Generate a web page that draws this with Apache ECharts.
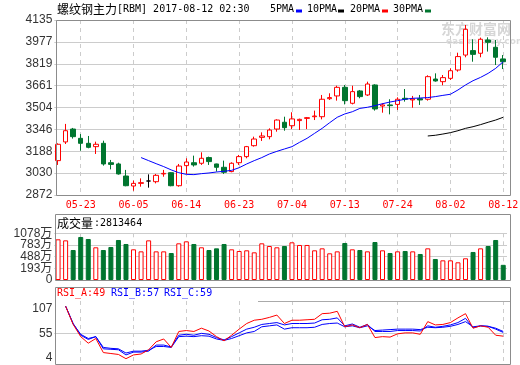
<!DOCTYPE html>
<html><head><meta charset="utf-8">
<script src="https://cdn.jsdelivr.net/npm/echarts@6/dist/echarts.min.js"></script>
<style>html,body{margin:0;padding:0;background:#fff}#c{width:520px;height:365px}</style>
</head><body><div id="c"></div>
<script>
const dates = ['05-18','05-19','05-22','05-23','05-24','05-25','05-26','05-31','06-01','06-02',
'06-05','06-06','06-07','06-08','06-09','06-12','06-13','06-14','06-15','06-16',
'06-19','06-20','06-21','06-22','06-23','06-26','06-27','06-28','06-29','06-30',
'07-03','07-04','07-05','07-06','07-07','07-10','07-11','07-12','07-13','07-14',
'07-17','07-18','07-19','07-20','07-21','07-24','07-25','07-26','07-27','07-28',
'07-31','08-01','08-02','08-03','08-04','08-07','08-08','08-09','08-10','08-12'];
const priceOpen  = [3120,3255,3348,3281,3245,3221,3245,3105,3096,3009,2937,2956,2973,2968,3024,3033,2939,3084,3105,3101,3142,3096,3072,3041,3105,3149,3228,3288,3293,3348,3397,3372,3409,3425,3437,3437,3567,3587,3649,3534,3623,3594,3666,3514,3522,3526,3570,3558,3567,3563,3709,3690,3714,3774,3882,3914,3895,3991,3938,3854];
const priceClose = [3238,3336,3293,3245,3216,3238,3096,3093,3024,2939,2956,2961,2973,3014,3028,2939,3081,3110,3089,3137,3113,3072,3036,3101,3149,3221,3276,3298,3341,3413,3358,3421,3418,3430,3442,3563,3575,3649,3553,3618,3582,3673,3493,3522,3517,3563,3563,3565,3558,3726,3695,3719,3769,3871,4068,3887,3996,3974,3866,3834];
const priceLow   = [3089,3240,3279,3192,3209,3168,3084,3057,3019,2935,2903,2932,2925,2956,3004,2935,2932,3024,3077,3089,3089,3041,3024,3036,3089,3137,3221,3262,3274,3329,3336,3348,3341,3348,3413,3418,3558,3553,3526,3526,3570,3587,3481,3466,3454,3486,3546,3502,3522,3553,3690,3664,3702,3762,3866,3834,3866,3907,3810,3781];
const priceHigh  = [3245,3385,3356,3312,3298,3257,3264,3125,3105,3053,2976,2992,3021,3024,3053,3036,3096,3137,3156,3180,3149,3098,3120,3108,3161,3226,3293,3324,3353,3418,3437,3469,3423,3435,3481,3594,3606,3661,3666,3661,3630,3690,3671,3534,3563,3577,3637,3587,3594,3736,3750,3738,3786,3899,4099,3996,4008,4010,3991,3882];
const maBlue = [null,null,null,null,null,null,null,null,null,null,null,
3142,3120,3098,3077,3053,3033,3021,3019,3026,3031,
3038,3043,3050,3069,3096,3120,3142,3168,3187,3204,
3221,3252,3281,3317,3353,3394,3433,3457,3473,3497,
3505,3517,3531,3543,3553,3563,3570,3572,3575,3582,
3591,3599,3630,3666,3697,3721,3750,3786,3834];
const maBlack = [null,null,null,null,null,null,null,null,null,null,null,null,null,null,null,null,null,null,null,null,
null,null,null,null,null,null,null,null,null,null,null,null,null,null,null,null,null,null,null,null,
null,null,null,null,null,null,null,null,null,
3298,3303,3312,3322,3336,3353,3365,3380,3397,3413,3433];
const volume = [926,900,656,985,934,724,656,732,909,808,673,622,900,622,622,580,825,875,808,724,656,698,808,673,631,648,597,825,757,724,757,850,783,783,648,698,572,622,833,673,656,622,858,648,580,622,631,622,555,698,429,395,395,345,446,606,698,757,909,281];
const rsiA = [null,113,74,48,34,44,14,12,10,1,9,11,20,37,43,25,59,61,59,66,60,48,39,51,64,76,83,85,89,94,76,83,83,84,85,97,98,102,69,73,67,74,46,48,47,54,56,56,53,80,73,74,78,88,97,66,71,68,51,49];
const rsiB = [null,113,76,51,42,48,22,21,20,9,15,15,17,30,30,26,51,53,51,55,53,46,41,48,56,64,68,74,76,78,73,76,76,76,77,84,85,88,71,75,68,74,59,59,59,61,61,61,60,71,68,70,73,78,87,67,71,70,64,57];
const rsiC = [null,113,75,53,44,48,25,23,22,13,17,17,19,27,27,25,48,49,48,50,49,43,40,44,50,56,59,69,71,73,64,67,67,67,68,74,76,77,69,71,67,71,61,62,63,64,64,64,63,68,67,68,70,74,80,69,71,70,66,59];
const priceTicks = [2872,3030,3188,3346,3504,3661,3819,3977,4135];
const volTicks = [-102,193,488,783,1078];
const rsiTicks = [4,55,107];

const RED = '#ff0000', GREEN = '#00752f', BLUE = '#0000ff';
const MONO = 'DejaVu Sans Mono', CJK = 'Noto Sans CJK SC', SANS = 'Liberation Sans';
const labelInterval = (i) => (i - 3) % 7 === 0;

function xAxisCfg(gi, showLabel) {
  return {
    type: 'category', gridIndex: gi, data: dates, boundaryGap: true,
    axisLine: {show: false}, axisTick: {show: false},
    axisLabel: {show: showLabel, interval: labelInterval, color: RED, fontFamily: MONO, fontSize: 10, margin: 5, hideOverlap: false},
    splitLine: {show: true, interval: labelInterval, alignWithLabel: true, lineStyle: {color: '#cccccc', type: [4, 4], width: 1}}
  };
}
function yAxisCfg(gi, min, max, labels, lines, fmt, showSplit) {
  return {
    type: 'value', gridIndex: gi, min: min, max: max, scale: true, position: 'left',
    axisLine: {show: false},
    axisTick: {show: false, customValues: lines},
    axisLabel: {customValues: labels, color: '#333', fontFamily: SANS + ',' + CJK, fontSize: 12, margin: 2, formatter: fmt,
                hideOverlap: false, showMinLabel: true, showMaxLabel: true},
    splitLine: {show: showSplit !== false, lineStyle: {color: '#cccccc', width: 1}}
  };
}
const volFmt = v => (v < 0 ? '0' : Math.round(v) + '万');

const volData = volume.map((v, i) => {
  const up = priceClose[i] >= priceOpen[i];
  return {value: v, itemStyle: up ? {color: '#ffffff', borderColor: RED, borderWidth: 1} : {color: GREEN, borderColor: GREEN, borderWidth: 1}};
});

function txt(x, y, text, font, fill, z) {
  return {type: 'text', x: x, y: y, z: z || 10, style: {text: text, font: font, fill: fill, verticalAlign: 'middle', align: 'left'}};
}
function box(x, y, w, h, fill) {
  return {type: 'rect', z: 10, shape: {x: x, y: y, width: w, height: h}, style: {fill: fill}};
}
function frame(x, y, w, h) {
  return {type: 'rect', z: 5, shape: {x: x, y: y, width: w, height: h}, style: {fill: 'none', stroke: '#8c8c8c', lineWidth: 1}};
}

const chart = echarts.init(document.getElementById('c'), null, {renderer: 'canvas'});
chart.setOption({
  animation: false,
  backgroundColor: '#ffffff',
  grid: [
    {left: 54.3, right: 13, top: 20, height: 175, outerBoundsMode: 'none'},
    {left: 54.3, right: 13, top: 233.3, height: 46.7, outerBoundsMode: 'none'},
    {left: 54.3, right: 13, top: 301, height: 63.3, outerBoundsMode: 'none'}
  ],
  xAxis: [xAxisCfg(0, true), xAxisCfg(1, false), xAxisCfg(2, false)],
  yAxis: [
    yAxisCfg(0, 2872, 4135, priceTicks, priceTicks, v => String(Math.round(v))),
    Object.assign(yAxisCfg(1, -102, 1078, [volTicks[0], volTicks[2], volTicks[4]], volTicks.slice(1), volFmt), {startValue: -102}),
    yAxisCfg(2, -11, 124, rsiTicks, [55], v => String(Math.round(v))),
    Object.assign(yAxisCfg(1, -102, 1078, [volTicks[1], volTicks[3]], volTicks.slice(1), volFmt, false), {offset: 0})
  ],
  series: [
    {type: 'candlestick', xAxisIndex: 0, yAxisIndex: 0, barWidth: 5, silent: true,
     data: priceOpen.map((o, i) => [o, priceClose[i], priceLow[i], priceHigh[i]]),
     itemStyle: {color: '#ffffff', color0: GREEN, borderColor: RED, borderColor0: GREEN, borderColorDoji: '#000000', borderWidth: 1}},
    {type: 'line', xAxisIndex: 0, yAxisIndex: 0, data: maBlue, showSymbol: false, silent: true, lineStyle: {color: BLUE, width: 1}, itemStyle: {color: BLUE}},
    {type: 'line', xAxisIndex: 0, yAxisIndex: 0, data: maBlack, showSymbol: false, silent: true, lineStyle: {color: '#000', width: 1}, itemStyle: {color: '#000'}},
    {type: 'bar', xAxisIndex: 1, yAxisIndex: 1, data: volData, barWidth: 5, silent: true},
    {type: 'line', xAxisIndex: 2, yAxisIndex: 2, data: rsiC, showSymbol: false, silent: true, lineStyle: {color: BLUE, width: 1}, itemStyle: {color: BLUE}},
    {type: 'line', xAxisIndex: 2, yAxisIndex: 2, data: rsiB, showSymbol: false, silent: true, lineStyle: {color: BLUE, width: 1}, itemStyle: {color: BLUE}},
    {type: 'line', xAxisIndex: 2, yAxisIndex: 2, data: rsiA, showSymbol: false, silent: true, lineStyle: {color: RED, width: 1}, itemStyle: {color: RED}}
  ],
  graphic: [
    txt(441, 29, '东方财富网', 'bold 14px ' + CJK, '#d6d6d6', 1),
    txt(446, 42, 'eastmoney.com', 'bold 9px DejaVu Sans', '#dadada', 1),
    frame(56.5, 20.5, 454, 175),
    frame(55.5, 214.5, 455, 66),
    frame(55.5, 287.5, 455, 77),
    {type: 'line', z: 5, shape: {x1: 258, y1: 301.5, x2: 510, y2: 301.5}, style: {stroke: '#aaaaaa', lineWidth: 1}},
    txt(57, 9, '螺纹钢主力', '12px ' + CJK, '#000'),
    txt(117, 9, '[RBM] 2017-08-12 02:30', '10px ' + MONO, '#000'),
    txt(270, 9, '5PMA', '10px ' + MONO, '#000'), box(296, 9.5, 6, 3, BLUE),
    txt(307, 9, '10PMA', '10px ' + MONO, '#000'), box(338, 9.5, 6, 3, '#000'),
    txt(350, 9, '20PMA', '10px ' + MONO, '#000'), box(382, 9.5, 6, 3, RED),
    txt(393, 9, '30PMA', '10px ' + MONO, '#000'), box(425, 9.5, 6, 3, GREEN),
    txt(57, 223, '成交量', '12px ' + CJK, '#000'),
    txt(94, 223, ':2813464', '10px ' + MONO, '#000'),
    txt(57, 293, 'RSI_A:49', '10px ' + MONO, RED),
    txt(111, 293, 'RSI_B:57', '10px ' + MONO, BLUE),
    txt(164, 293, 'RSI_C:59', '10px ' + MONO, BLUE)
  ]
});
</script></body></html>
